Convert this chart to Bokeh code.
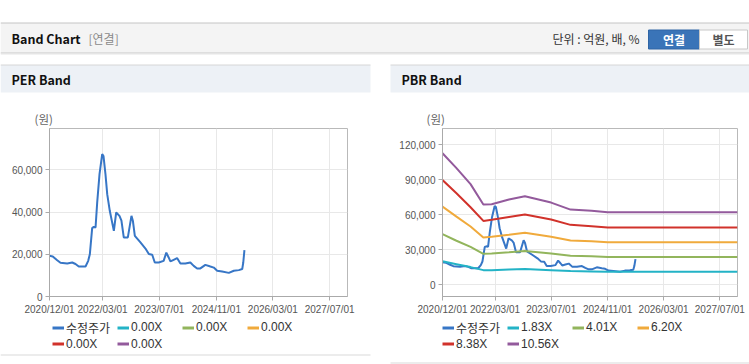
from datetime import datetime
import pandas as pd
from bokeh.plotting import figure
from bokeh.models import (Range1d, FixedTicker, DatetimeTickFormatter, NumeralTickFormatter,
                          Legend, LegendItem, ColumnDataSource)
from bokeh.layouts import column, row
from bokeh.embed import file_html
from bokeh.resources import INLINE
from bokeh.core.properties import value

# ---------------- data ----------------
price_dates = ["2020-12-01", "2020-12-29", "2021-02-05", "2021-03-05", "2021-05-02", "2021-06-14",
               "2021-07-12", "2021-08-09", "2021-10-06", "2021-10-29", "2021-11-12", "2021-12-02",
               "2021-12-16", "2021-12-31", "2022-01-14", "2022-02-03", "2022-02-26", "2022-03-09",
               "2022-03-26", "2022-04-10", "2022-05-02", "2022-06-06", "2022-06-26", "2022-07-24",
               "2022-08-10", "2022-08-30", "2022-10-04", "2022-11-04", "2022-11-16", "2022-12-03",
               "2023-01-20", "2023-03-04", "2023-04-02", "2023-05-01", "2023-05-23", "2023-06-26",
               "2023-08-07", "2023-08-30", "2023-09-19", "2023-10-04", "2023-11-01", "2023-11-30",
               "2023-12-29", "2024-02-09", "2024-03-23", "2024-04-21", "2024-05-20", "2024-06-17",
               "2024-07-30", "2024-09-11", "2024-10-10", "2024-11-08", "2024-12-21", "2025-02-16",
               "2025-03-31", "2025-05-13", "2025-06-11", "2025-06-20", "2025-06-30"]
price_values = [19300, 19000, 17200, 16000, 15600, 16100,
                15400, 14200, 14200, 16900, 20000, 32400,
                33000, 32700, 44500, 58000, 67500, 66600,
                58000, 48500, 40600, 31100, 39800, 38200,
                35900, 28000, 28000, 38200, 35900, 28700,
                25600, 22700, 20100, 19800, 16100, 16100,
                16900, 20800, 18500, 16600, 17400, 18200,
                15600, 15600, 16100, 14500, 13300, 13300,
                15000, 14200, 13700, 12200, 11800, 11200,
                12200, 12500, 13000, 16100, 22000]

band_dates = ["2020-12-01", "2021-04-01", "2021-08-01", "2021-11-20", "2022-01-31", "2022-06-30",
              "2022-11-15", "2023-06-30", "2023-12-15", "2024-06-15", "2024-11-01", "2027-12-01"]
band_183 = [20200, 17700, 15200, 12600, 12600, 13100, 13500, 12600, 11800, 11500, 11300, 11300]
band_401 = [43500, 37800, 32500, 26600, 26900, 27900, 28900, 26800, 24900, 24400, 23900, 23900]
band_620 = [67000, 58500, 50000, 40600, 41200, 43000, 44700, 41300, 38000, 37300, 36500, 36500]
band_838 = [89800, 78500, 66500, 54800, 55800, 58200, 60300, 56000, 51400, 50200, 49200, 49200]
band_1056 = [112800, 100000, 86300, 68800, 69000, 73200, 76000, 70500, 64500, 63600, 62200, 62200]

per_labels = ["수정주가", "0.00X", "0.00X", "0.00X", "0.00X", "0.00X"]
pbr_labels = ["수정주가", "1.83X", "4.01X", "6.20X", "8.38X", "10.56X"]
x_tick_dates = ["2020-12-01", "2022-03-01", "2023-07-01", "2024-11-01", "2026-03-01", "2027-07-01"]
per_y_ticks = [0, 20000, 40000, 60000]
pbr_y_ticks = [0, 30000, 60000, 90000, 120000]

# ---------------- style ----------------
C_PRICE = "#3776c6"
BAND_COLORS = ["#23b3c6", "#92b55c", "#f0aa3c", "#d1322b", "#935a9c"]
LAT = "Liberation Sans, Noto Sans CJK KR"
KR = "Noto Sans CJK KR"
X0 = datetime(2020, 12, 1)
X1 = datetime(2027, 12, 1)


def ms(s):
    d = pd.Timestamp(s)
    return int((d - pd.Timestamp("1970-01-01")).total_seconds() * 1000)


def canvas(w, h, x0, y0):
    f = figure(width=w, height=h, x_range=Range1d(x0, x0 + w), y_range=Range1d(y0 + h, y0),
               x_axis_location=None, y_axis_location=None, output_backend="svg",
               toolbar_location=None, min_border=0, frame_align=False)
    f.grid.visible = False
    f.outline_line_color = None
    f.background_fill_color = "white"
    f.border_fill_color = "white"
    return f


def txt(f, x, y, s, size="12px", color="#333333", font=KR, style="normal", align="left"):
    f.text(x=[x], y=[y], text=[s], text_font=value(font), text_font_size=size,
           text_color=color, text_font_style=style, text_align=align, text_baseline="middle")


# ---------------- top header ----------------
head = canvas(749, 60, 0, 0)
head.quad(left=[0], right=[749], top=[22.5], bottom=[52.5], fill_color="#f4f4f4", line_color=None)
head.segment(x0=[0], y0=[22.5], x1=[749], y1=[22.5], line_color="#c4c4c4", line_width=1)
head.segment(x0=[0], y0=[52.5], x1=[749], y1=[52.5], line_color="#c8c8c8", line_width=1)
head.segment(x0=[0], y0=[53.5], x1=[749], y1=[53.5], line_color="#e6e6e6", line_width=1)
txt(head, 11, 38, "Band Chart", size="12.5px", color="#111111", style="bold")
txt(head, 88, 38, "[연결]", size="12px", color="#8a8a8a")
txt(head, 552, 38, "단위 : 억원, 배, %", size="12px", color="#333333")
head.quad(left=[648], right=[699], top=[29.5], bottom=[48.5], fill_color="#3a74b8", line_color="#2f65a5")
head.quad(left=[699], right=[747], top=[29.5], bottom=[48.5], fill_color="#ffffff", line_color="#c8c8c8")
txt(head, 673.5, 39, "연결", size="12px", color="white", style="bold", align="center")
txt(head, 723, 39, "별도", size="12px", color="#555555", style="bold", align="center")


# ---------------- panel heads ----------------
def panel_head(x0, w, px0, px1, title):
    f = canvas(w, 67, x0, 60)
    f.quad(left=[px0], right=[px1], top=[64.5], bottom=[92], fill_color="#edf1f6", line_color=None)
    f.segment(x0=[px0], y0=[64.5], x1=[px1], y1=[64.5], line_color="#d6d6d6", line_width=1)
    txt(f, px0 + 11, 79, title, size="12.5px", color="#111111", style="bold")
    return f


per_head = panel_head(0, 380, 0, 370, "PER Band")
txt(per_head, 34, 118, "(원)", size="11.5px", color="#666666")
pbr_head = panel_head(380, 369, 390, 749, "PBR Band")
txt(pbr_head, 426, 118, "(원)", size="11.5px", color="#666666")


# ---------------- charts ----------------
def chart(w, left, right, yr, yticks, bands):
    p = figure(width=w, height=191, x_axis_type="datetime", x_range=Range1d(X0, X1),
               y_range=Range1d(*yr), output_backend="svg", toolbar_location=None, frame_align=False,
               min_border_left=left, min_border_right=right, min_border_top=1, min_border_bottom=22)
    p.background_fill_color = "white"
    p.border_fill_color = "white"
    p.outline_line_color = "#b9b9b9"
    xt = FixedTicker(ticks=[ms(d) for d in x_tick_dates])
    p.xaxis.ticker = xt
    p.xgrid.ticker = xt
    p.xaxis.formatter = DatetimeTickFormatter(days="%Y/%m/%d", months="%Y/%m/%d", years="%Y/%m/%d",
                                              hours="%Y/%m/%d", minutes="%Y/%m/%d")
    yt = FixedTicker(ticks=yticks)
    p.yaxis.ticker = yt
    p.ygrid.ticker = yt
    p.yaxis.formatter = NumeralTickFormatter(format="0,0")
    for ax in [p.xaxis[0], p.yaxis[0]]:
        ax.axis_line_color = "#aaaaaa"
        ax.major_tick_line_color = "#aaaaaa"
        ax.major_tick_out = 4
        ax.major_tick_in = 0
        ax.minor_tick_line_color = None
        ax.major_label_text_font = LAT
        ax.major_label_text_font_size = "10px"
        ax.major_label_text_color = "#555555"
    p.xaxis.major_label_standoff = 3
    p.yaxis.major_label_standoff = 3
    p.grid.grid_line_color = "#e8e8e8"

    src = ColumnDataSource(dict(x=pd.to_datetime(price_dates), y=price_values))
    p.line("x", "y", source=src, line_color=C_PRICE, line_width=2)
    for vals, col in zip(bands, BAND_COLORS):
        if vals is not None:
            s = ColumnDataSource(dict(x=pd.to_datetime(band_dates), y=vals))
            p.line("x", "y", source=s, line_color=col, line_width=2)
    return p


def legend_fig(x0, w, labels, swatch_x, bottom_line_y, px0, px1):
    f = canvas(w, 46, x0, 318)
    f.segment(x0=[px0], y0=[bottom_line_y], x1=[px1], y1=[bottom_line_y], line_color="#d9d9d9", line_width=1)
    rs = []
    for col in [C_PRICE] + BAND_COLORS:
        # off-canvas placeholder renderers: only their legend swatches are visible
        rs.append(f.line(x=[-9999, -9998], y=[-9999, -9999], line_color=col, line_width=3))
    items = [LegendItem(label=lab, renderers=[r]) for lab, r in zip(labels, rs)]
    common = dict(orientation="horizontal",
                  glyph_width=12, glyph_height=13, label_standoff=2, label_width=49,
                  label_height=13, spacing=2, padding=0, margin=0,
                  border_line_color=None, background_fill_alpha=0,
                  label_text_font=LAT, label_text_font_size="12px", label_text_color="#333333")
    f.add_layout(Legend(items=items[:4], location=(swatch_x, 28.5), **common), "center")
    f.add_layout(Legend(items=items[4:], location=(swatch_x, 13.5), **common), "center")
    return f


per = chart(380, 49, 33, (0, 79600), per_y_ticks, [None] * 5)
pbr = chart(369, 62, 12, (-10000, 134000), pbr_y_ticks,
            [band_183, band_401, band_620, band_838, band_1056])
per_leg = legend_fig(0, 380, per_labels, 52, 354.5, 0, 370)
pbr_leg = legend_fig(380, 369, pbr_labels, 62, 362.5, 390, 749)

layout = column(head,
                row(column(per_head, per, per_leg, spacing=0),
                    column(pbr_head, pbr, pbr_leg, spacing=0), spacing=0),
                spacing=0)

with open("out.html", "w") as fh:
    fh.write(file_html(layout, INLINE))
